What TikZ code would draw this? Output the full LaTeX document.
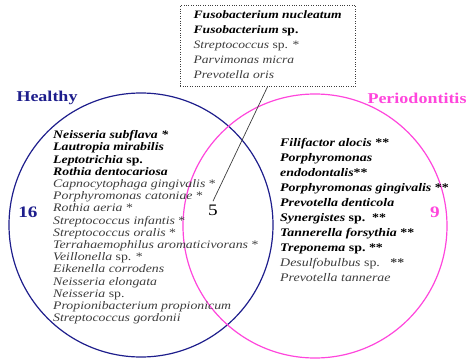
\documentclass[tikz,border=0pt]{standalone}
\usepackage{fontspec}
\setmainfont{Liberation Serif}[FakeStretch=1.2]
\usepackage{array}
\definecolor{healthyblue}{RGB}{30,30,140}
\definecolor{perioline}{RGB}{255,70,220}
\definecolor{othergray}{RGB}{60,60,60}
\newcommand{\bsp}[1]{\textbf{\textit{#1}}}
\newcommand{\gsp}[1]{{\color{othergray}#1}}
\tikzset{
  setring/.style={circle,draw,line width=1.2pt,minimum size=264pt,inner sep=0pt},
  leftlist/.style={anchor=north west,inner sep=0pt,font=\fontsize{11.5}{12.2}\selectfont},
  rightlist/.style={anchor=north west,inner sep=0pt,font=\fontsize{11.6}{15}\selectfont},
  setcount/.style={font=\fontsize{16}{16}\selectfont\bfseries},
  setname/.style={font=\fontsize{15}{15}\selectfont\bfseries}
}
\begin{document}
\begin{tikzpicture}[x=1pt,y=-1pt]
\useasboundingbox (0,0) rectangle (472,359);

% the two sets
\node[setring,draw=healthyblue] (healthy) at (141,225) {};
\node[setring,draw=perioline] (perio) at (315,226) {};

\node[setname,text=healthyblue] (healthyname) at (47,98) {Healthy};
\node[setname,text=perioline] (perioname) at (417,98) {Periodontitis};

\node[setcount,text=healthyblue] (nhealthy) at (28,212) {16};
\node[setcount,text=perioline] (nperio) at (435,212) {9};
\node[font=\fontsize{16}{16}\selectfont] (nshared) at (213,210) {5};

% shared species
\node[anchor=north west,draw=othergray,dotted,inner xsep=7pt,inner ysep=0pt,
      minimum width=175pt,minimum height=81pt,
      font=\fontsize{11.3}{15}\selectfont] (sharedbox) at (180,5) {%
  \begin{tabular}{@{}l@{}}
  \bsp{Fusobacterium nucleatum}\\
  \textbf{\textit{Fusobacterium} sp.}\\
  \gsp{\textit{Streptococcus} sp. *}\\
  \gsp{\textit{Parvimonas micra}}\\
  \gsp{\textit{Prevotella oris}}
  \end{tabular}\hspace*{\fill}};
\draw[othergray,line width=0.7pt] (sharedbox.south) -- (nshared.north);

% healthy only
\node[leftlist] (healthylist) at (53,130) {%
  \begin{tabular}{@{}l@{}}
  \bsp{Neisseria subflava *}\\
  \bsp{Lautropia mirabilis}\\
  \textbf{\textit{Leptotrichia} sp.}\\
  \bsp{Rothia dentocariosa}\\
  \gsp{\textit{Capnocytophaga gingivalis} *}\\
  \gsp{\textit{Porphyromonas catoniae} *}\\
  \gsp{\textit{Rothia aeria} *}\\
  \gsp{\textit{Streptococcus infantis} *}\\
  \gsp{\textit{Streptococcus oralis} *}\\
  \gsp{\textit{Terrahaemophilus aromaticivorans} *}\\
  \gsp{\textit{Veillonella} sp. *}\\
  \gsp{\textit{Eikenella corrodens}}\\
  \gsp{\textit{Neisseria elongata}}\\
  \gsp{\textit{Neisseria} sp.}\\
  \gsp{\textit{Propionibacterium propionicum}}\\
  \gsp{\textit{Streptococcus gordonii}}
  \end{tabular}};

% periodontitis only
\node[rightlist] (periolist) at (280,136) {%
  \begin{tabular}{@{}l@{}}
  \bsp{Filifactor alocis} \textbf{**}\\
  \bsp{Porphyromonas}\\
  \bsp{endodontalis}\textbf{**}\\
  \bsp{Porphyromonas gingivalis} \textbf{**}\\
  \bsp{Prevotella denticola}\\
  \textbf{\textit{Synergistes} sp.\ \ **}\\
  \bsp{Tannerella forsythia} \textbf{**}\\
  \textbf{\textit{Treponema} sp.\ **}\\
  \gsp{\textit{Desulfobulbus} sp.\ \ \ \textbf{**}}\\
  \gsp{\textit{Prevotella tannerae}}
  \end{tabular}};
\end{tikzpicture}
\end{document}
